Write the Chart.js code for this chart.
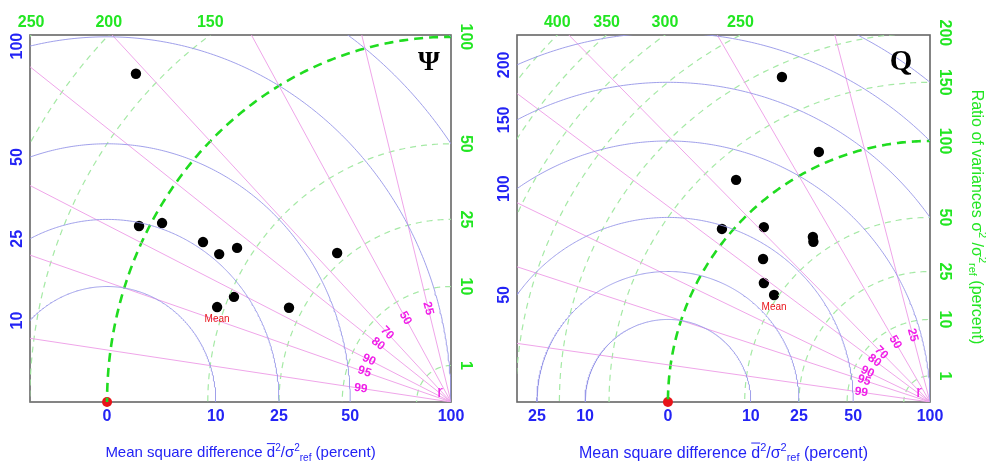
<!DOCTYPE html>
<html>
<head>
<meta charset="utf-8">
<script src="https://cdn.jsdelivr.net/npm/chart.js@4.4.0/dist/chart.umd.min.js"></script>
<style>
  body { margin: 0; background: #fff; width: 986px; height: 463px; overflow: hidden; position: relative; }
  canvas { position: absolute; top: 0; }
  #psiChart { left: 0; }
  #qChart { left: 480px; }
</style>
</head>
<body>
<canvas id="psiChart" width="480" height="463"></canvas>
<canvas id="qChart" width="506" height="463"></canvas>
<script>
// Diagram plane: distance from the origin = sqrt(MSD %), distance from r = sqrt(variance ratio %).
const corrLevels = [0.99, 0.95, 0.9, 0.8, 0.7, 0.5, 0.25];
const corrLabels = ["99", "95", "90", "80", "70", "50", "25"];
const msdCircles = [10, 25, 50, 100, 150, 200, 250];
const ratioCircles = [1, 10, 25, 50, 150, 200, 250, 300, 350, 400, 450];

// Psi panel
const psiX = [0.84, 0.93, 1.60, 2.79, 3.26, 3.78, 6.69, 3.69, 3.20, 5.29];
const psiY = [8.99, 4.82, 4.90, 4.38, 4.05, 4.22, 4.08, 2.88, 2.60, 2.58];
const psiMean = 8;
const psiBottomTicks = [0, 10, 25, 50, 100];
const psiLeftTicks = [10, 25, 50, 100];
const psiRightTicks = [1, 10, 25, 50, 100];
const psiTopTicks = [150, 200, 250];

// Q panel
const qX = [4.35, 5.76, 2.60, 2.06, 3.66, 5.53, 5.55, 3.63, 3.66, 4.05];
const qY = [12.45, 9.58, 8.51, 6.63, 6.70, 6.32, 6.14, 5.48, 4.56, 4.10];
const qMean = 9;
const qBottomTicks = [-25, -10, 0, 10, 25, 50, 100];
const qLeftTicks = [50, 100, 150, 200];
const qRightTicks = [1, 10, 25, 50, 100, 150, 200];
const qTopTicks = [250, 300, 350, 400];

const BLUE = "#2323f5";
const GREEN = "#22e622";
const MAGENTA = "#f020e8";
const SANS = "'Liberation Sans', Arial, sans-serif";

function arc(cx, r) {
  const pts = [];
  for (let i = 0; i <= 360; i++) {
    const a = Math.PI * i / 360;
    pts.push({ x: cx + r * Math.cos(a), y: r * Math.sin(a) });
  }
  return pts;
}

function line(data, color, width, dash) {
  return { data, borderColor: color, borderWidth: width, borderDash: dash || [], showLine: true,
           pointRadius: 0, fill: false, tension: 0 };
}

function buildDatasets(xs, ys) {
  const ds = [];
  msdCircles.forEach(m => ds.push(line(arc(0, Math.sqrt(m)), "rgba(150,150,232,0.9)", 1)));
  corrLevels.forEach(c => ds.push(line(
    [{ x: 10, y: 0 }, { x: 10 - 40 * c, y: 40 * Math.sqrt(1 - c * c) }], "rgba(238,160,232,0.95)", 1)));
  ratioCircles.forEach(s => ds.push(line(arc(10, Math.sqrt(s)), "rgba(160,232,160,0.95)", 1.2, [6, 5])));
  ds.push(line(arc(10, 10), "#20dc20", 2.6, [9, 6]));
  ds.push({ data: xs.map((x, i) => ({ x, y: ys[i] })), showLine: false, pointRadius: 5.2,
            pointBackgroundColor: "#000", pointBorderWidth: 0, clip: false });
  ds.push({ data: [{ x: 0, y: 0 }], showLine: false, pointRadius: 5, pointBackgroundColor: "#e8141a",
            pointBorderWidth: 0, clip: false });
  return ds;
}

function text(ctx, str, x, y, o) {
  ctx.save();
  ctx.translate(x, y);
  if (o.rot) ctx.rotate(o.rot);
  ctx.font = o.font;
  ctx.fillStyle = o.color;
  ctx.textAlign = o.align || "center";
  ctx.textBaseline = o.baseline || "middle";
  ctx.fillText(str, 0, 0);
  ctx.restore();
}

// "d̄²/σ²ref"-style label built from pieces, centred at (0,0) in the current transform
function drawRichTitle(ctx, parts, size, color) {
  const big = `${size}px ${SANS}`, small = `${Math.round(size * 0.68)}px ${SANS}`;
  let total = 0;
  const widths = parts.map(p => {
    ctx.font = p.kind === "normal" || p.kind === "over" ? big : small;
    const w = ctx.measureText(p.t).width;
    total += w;
    return w;
  });
  let x = -total / 2;
  ctx.fillStyle = color;
  ctx.strokeStyle = color;
  ctx.textBaseline = "alphabetic";
  ctx.textAlign = "left";
  const base = size * 0.36;
  parts.forEach((p, i) => {
    let dy = 0;
    if (p.kind === "sup") { ctx.font = small; dy = -size * 0.42; }
    else if (p.kind === "sub") { ctx.font = small; dy = size * 0.22; }
    else ctx.font = big;
    ctx.fillText(p.t, x, base + dy);
    if (p.kind === "over") {
      ctx.lineWidth = 1;
      ctx.beginPath();
      ctx.moveTo(x, base - size * 0.92);
      ctx.lineTo(x + widths[i], base - size * 0.92);
      ctx.stroke();
    }
    x += widths[i];
  });
}

const labelsPlugin = {
  id: "diagramLabels",
  beforeDatasetsDraw(chart) {
    // frame goes under the marks so the origin dot sits on top of it
    const { ctx, chartArea: a } = chart;
    ctx.save();
    ctx.strokeStyle = "#666";
    ctx.lineWidth = 1.6;
    ctx.strokeRect(a.left, a.top, a.right - a.left, a.bottom - a.top);
    ctx.restore();
  },
  afterDraw(chart, args, p) {
    const { ctx, chartArea: a } = chart;
    const xs = chart.scales.x, ys = chart.scales.y;
    const px = v => xs.getPixelForValue(v);
    const py = v => ys.getPixelForValue(v);
    const tickFont = `bold ${p.tickSize}px ${SANS}`;
    ctx.save();

    p.bottomTicks.forEach(t => text(ctx, String(Math.abs(t)), px(Math.sign(t) * Math.sqrt(Math.abs(t))),
      a.bottom + 15, { font: tickFont, color: BLUE }));
    p.leftTicks.forEach(m => text(ctx, String(m), a.left - 12, py(Math.sqrt(m - p.xMin * p.xMin)),
      { font: tickFont, color: BLUE, rot: -Math.PI / 2 }));
    p.rightTicks.forEach(s => text(ctx, String(s), a.right + 14, py(Math.sqrt(s)),
      { font: tickFont, color: GREEN, rot: Math.PI / 2 }));
    p.topTicks.forEach(s => text(ctx, String(s), px(10 - Math.sqrt(s - p.yMax * p.yMax)), a.top - 12,
      { font: tickFont, color: GREEN }));

    // correlation labels along the lines from r
    corrLevels.forEach((c, i) => {
      const th = Math.acos(c);
      const r = 2.65;
      text(ctx, corrLabels[i], px(10 - r * c), py(r * Math.sin(th)),
        { font: `bold 12px ${SANS}`, color: MAGENTA, rot: th });
    });
    text(ctx, "r", px(10) - 11, py(0) - 10, { font: `17px ${SANS}`, color: MAGENTA });

    const mx = p.xs[p.mean], my = p.ys[p.mean];
    text(ctx, "Mean", px(mx), py(my) + 12, { font: `10px ${SANS}`, color: "#e8141a" });

    text(ctx, p.letter, p.letterX, p.letterY, { font: `bold ${p.letterSize}px 'Liberation Serif', 'DejaVu Serif', serif`, color: "#000" });

    ctx.save();
    ctx.translate((a.left + a.right) / 2, 452);
    drawRichTitle(ctx, [
      { t: "Mean square difference ", kind: "normal" },
      { t: "d", kind: "over" }, { t: "2", kind: "sup" },
      { t: "/σ", kind: "normal" }, { t: "2", kind: "sup" }, { t: "ref", kind: "sub" },
      { t: " (percent)", kind: "normal" }
    ], p.titleSize, BLUE);
    ctx.restore();

    if (p.sideTitle) {
      ctx.save();
      ctx.translate(p.sideTitleX, 217);
      ctx.rotate(Math.PI / 2);
      drawRichTitle(ctx, [
        { t: "Ratio of variances σ", kind: "normal" }, { t: "2", kind: "sup" },
        { t: " /σ", kind: "normal" }, { t: "2", kind: "sup" }, { t: "ref", kind: "sub" },
        { t: " (percent)", kind: "normal" }
      ], p.titleSize, GREEN);
      ctx.restore();
    }
    ctx.restore();
  }
};

function makeChart(id, xs, ys, p, padding) {
  p.xs = xs; p.ys = ys;
  return new Chart(document.getElementById(id), {
    type: "scatter",
    data: { datasets: buildDatasets(xs, ys) },
    options: {
      responsive: false,
      animation: false,
      events: [],
      layout: { padding },
      scales: {
        x: { type: "linear", min: p.xMin, max: 10, display: false },
        y: { type: "linear", min: 0, max: p.yMax, display: false }
      },
      plugins: { legend: { display: false }, tooltip: { enabled: false }, diagramLabels: p }
    },
    plugins: [labelsPlugin]
  });
}

makeChart("psiChart", psiX, psiY, {
  xMin: -2.24, yMax: 10.05, mean: psiMean,
  bottomTicks: psiBottomTicks, leftTicks: psiLeftTicks, rightTicks: psiRightTicks, topTicks: psiTopTicks,
  tickSize: 16, titleSize: 15, letter: "Ψ", letterX: 429, letterY: 63, letterSize: 28, sideTitle: false
}, { left: 30, right: 29, top: 35, bottom: 61 });

makeChart("qChart", qX, qY, {
  xMin: -5.76, yMax: 14.06, mean: qMean,
  bottomTicks: qBottomTicks, leftTicks: qLeftTicks, rightTicks: qRightTicks, topTicks: qTopTicks,
  tickSize: 16, titleSize: 16, letter: "Q", letterX: 421, letterY: 63, letterSize: 29,
  sideTitle: true, sideTitleX: 498
}, { left: 37, right: 56, top: 35, bottom: 61 });
</script>
</body>
</html>
